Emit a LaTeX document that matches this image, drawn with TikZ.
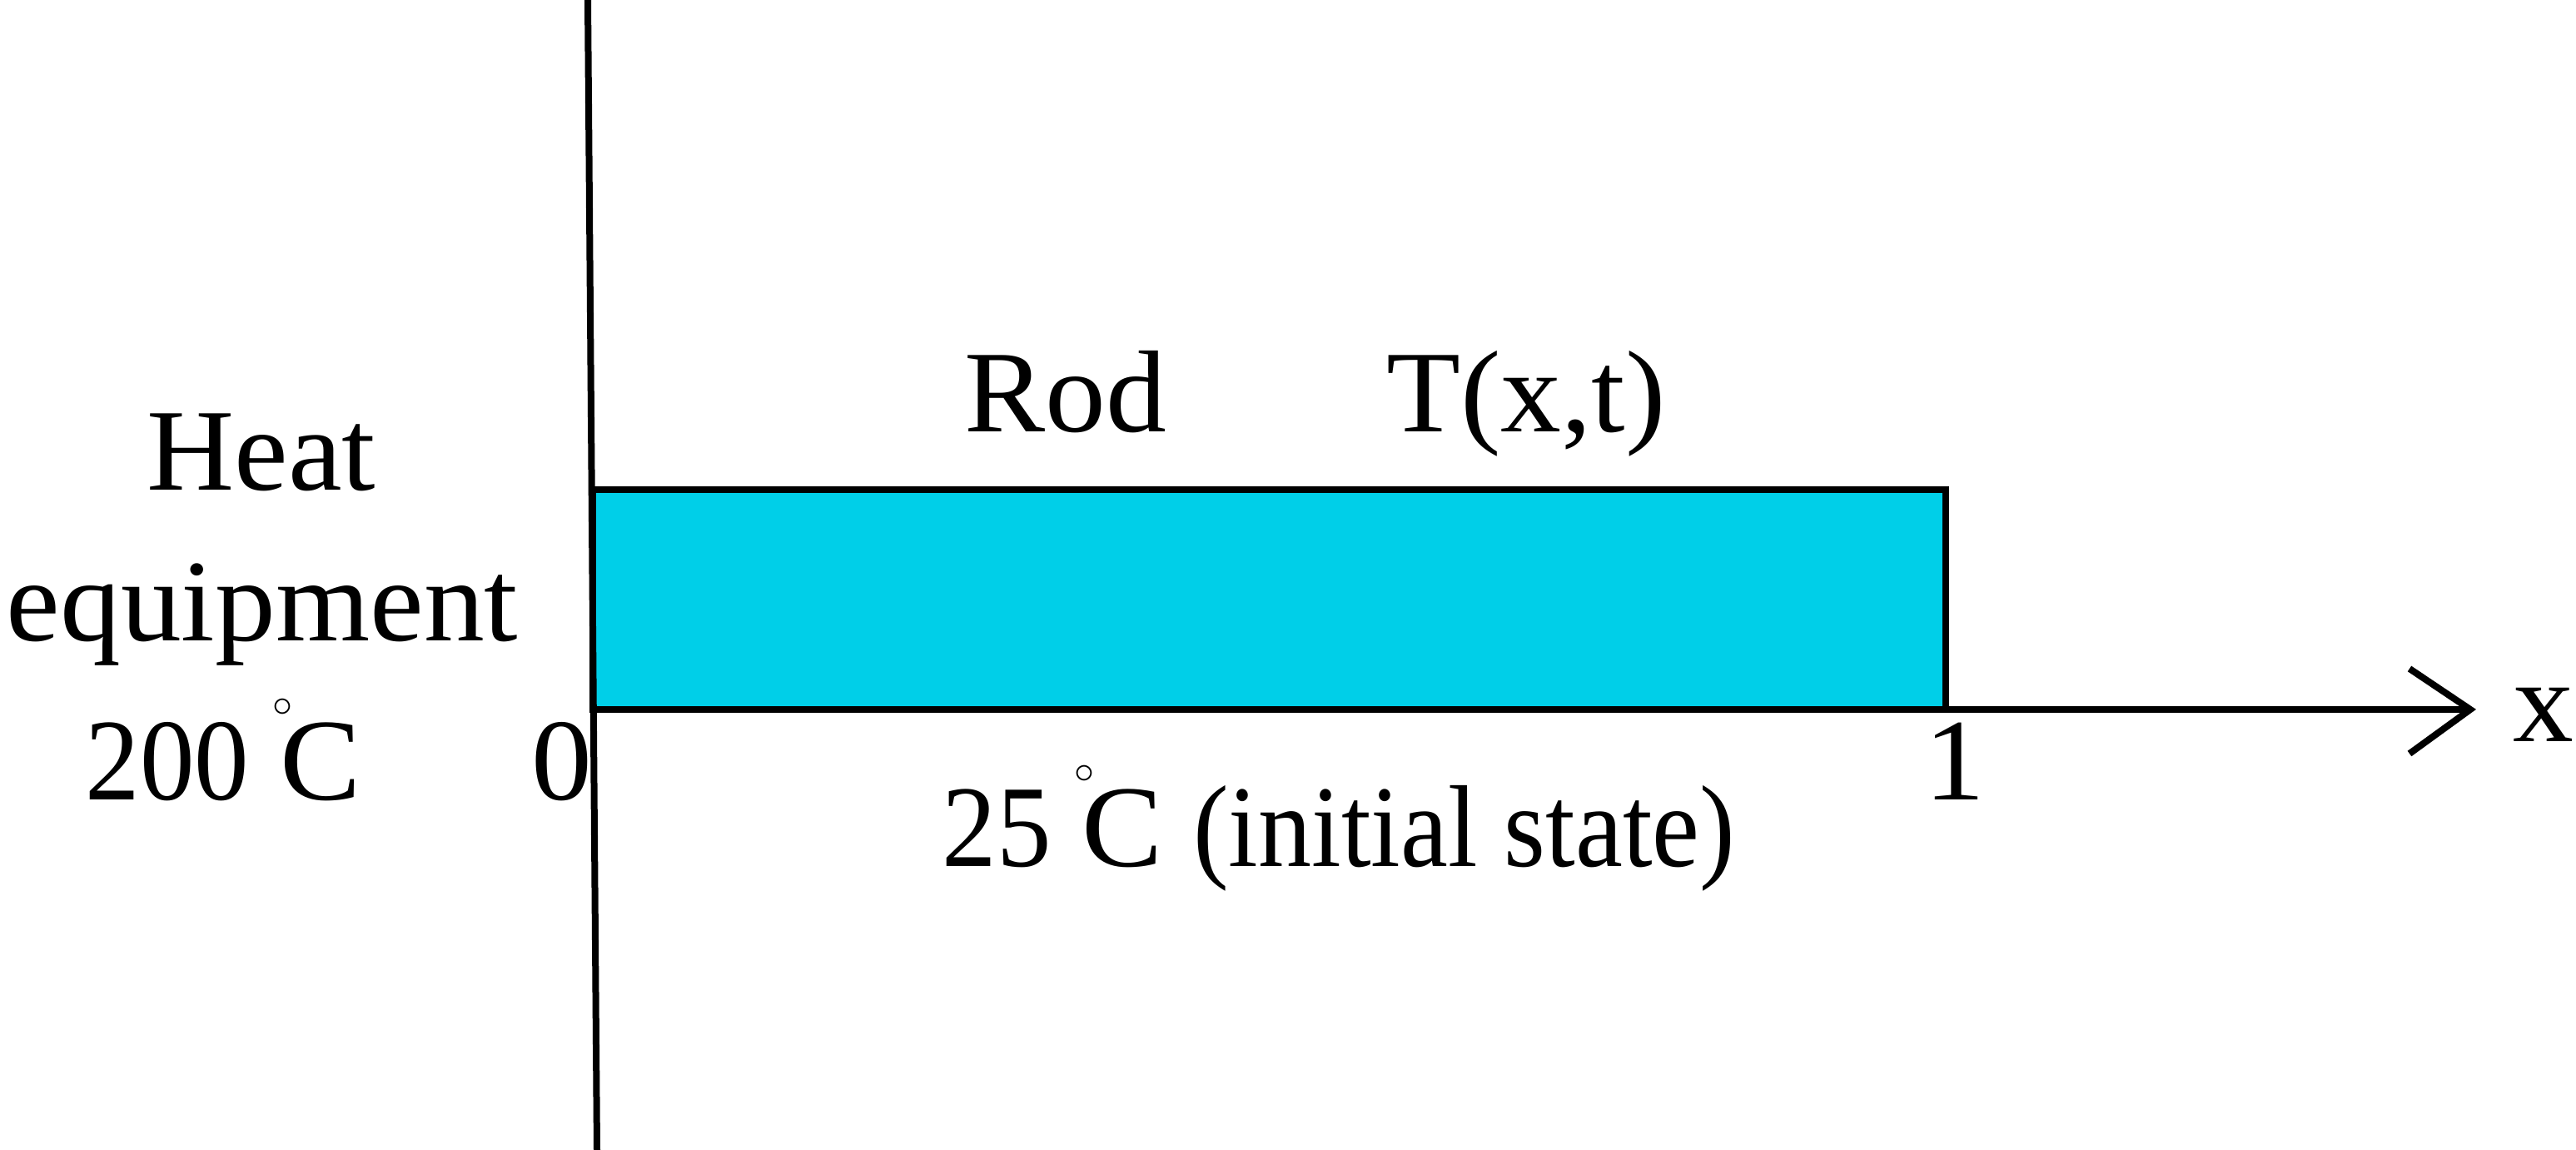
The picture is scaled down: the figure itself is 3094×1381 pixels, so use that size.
\documentclass[tikz,border=0pt]{standalone}
\usepackage{fontspec}
\usepackage{graphicx}
\setmainfont{Liberation Serif}[FakeStretch=1.04]
\usetikzlibrary{calc}
\definecolor{rodcyan}{RGB}{0,207,232}
\newcommand\mydegc{\kern 7pt\raisebox{25pt}{\fontsize{12pt}{12pt}\selectfont$\circ$}\kern-3.8pt C}
\newcommand\narrowtxt[2]{\scalebox{#1}[1]{#2}}
\begin{document}
\begin{tikzpicture}[x=0.25pt,y=-0.25pt,
  lbl/.style={inner sep=0pt, anchor=base, font=\fontsize{35pt}{42pt}\selectfont},
  thick line/.style={line width=2pt, line cap=butt},
]
\useasboundingbox (0,0) rectangle (3094,1381);
% rod
\draw[thick line, fill=rodcyan, line join=miter] (712,588) rectangle (2337,852);
% heater wall
\coordinate (wtop) at (706,0);
\coordinate (wbot) at (717,1381);
\draw[thick line] (wtop) -- (wbot);
% x axis
\coordinate (O) at (712,852);
\coordinate (xend) at (2967,852);
\draw[thick line] (O) -- (xend);
\draw[thick line, line join=miter] ($(xend)+(-73,-49)$) -- (xend) -- ($(xend)+(-73,53)$);
% labels
\node[lbl] (heat) at (314,588) {Heat};
\node[lbl] (equip) at (315,769) {equipment};
\node[lbl] (t200) at (268,960) {\narrowtxt{0.9}{200}\mydegc};
\node[lbl] (zero) at (675,960) {0};
\node[lbl] (one) at (2348,960) {1};
\node[lbl] (rod) at (1280,518) {Rod};
\node[lbl] (Txt) at (1833,518) {T(x,t)};
\node[lbl] (init) at (1608,1040) {\narrowtxt{0.9}{25}\mydegc\ \narrowtxt{0.88}{(initial state)}};
\node[lbl, anchor=base west] (xlab) at (3018,890) {x};
\end{tikzpicture}
\end{document}
